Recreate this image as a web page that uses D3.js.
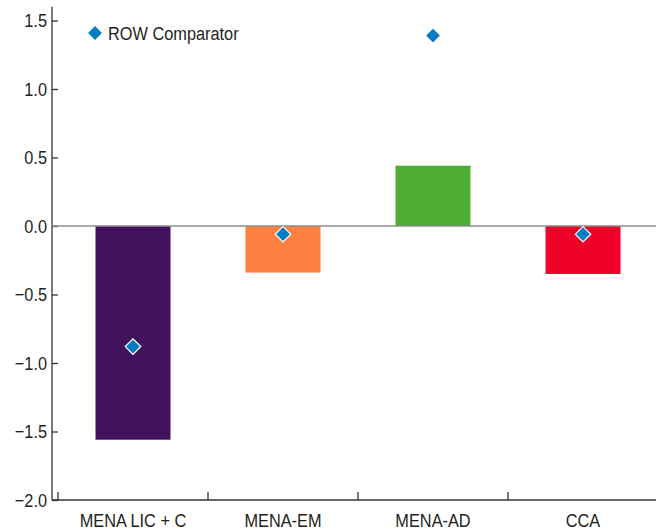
<!DOCTYPE html>
<html><head><meta charset="utf-8">
<script src="https://cdn.jsdelivr.net/npm/d3@7"></script>
<style>body{margin:0;background:#fff}svg text{font-family:"Liberation Sans",Arial,sans-serif;fill:#231f20}</style>
</head><body><svg id="c" width="656" height="532"></svg>
<script>
const categories = ["MENA LIC + C", "MENA-EM", "MENA-AD", "CCA"];
const barValues = [-1.56, -0.34, 0.44, -0.35];
const rowComparator = [-0.88, -0.06, 1.39, -0.06];
const barColors = ["#43125f", "#ff7f41", "#4fad33", "#ee0029"];
const yTicks = [1.5, 1.0, 0.5, 0.0, -0.5, -1.0, -1.5, -2.0];
const legendLabel = "ROW Comparator";

const SX = 0.86, FS = 19;
const svg = d3.select("#c");
const y = d3.scaleLinear().domain([-2, 1.6]).range([500, 6.8]);
const x = d3.scaleBand().domain(categories).range([58, 658]).paddingInner(0).paddingOuter(0);
const fmt = v => (v < 0 ? "\u2212" : "") + Math.abs(v).toFixed(1);

// y axis
const ya = svg.append("g").attr("transform", "translate(52,0)")
  .call(d3.axisRight(y).tickValues(yTicks).tickSize(6).tickFormat(""));
ya.select(".domain").attr("stroke", "#333").attr("stroke-width", 1.3).attr("d", `M0,${y(1.6)}V${y(-2)}`);
ya.selectAll(".tick line").attr("stroke", "#333").attr("stroke-width", 1.3);
svg.append("g").selectAll("text").data(yTicks).join("text")
  .attr("transform", d => `translate(47,${y(d)}) scale(${SX},1)`).attr("dy", "0.36em").attr("text-anchor", "end")
  .attr("font-size", FS).text(fmt);

// bars
svg.append("g").selectAll("rect").data(categories).join("rect")
  .attr("x", d => x(d) + x.bandwidth() / 4).attr("width", x.bandwidth() / 2)
  .attr("y", (d, i) => Math.min(y(0), y(barValues[i])))
  .attr("height", (d, i) => Math.abs(y(barValues[i]) - y(0)))
  .attr("fill", (d, i) => barColors[i]);

// zero line
svg.append("line").attr("x1", 52).attr("x2", 656).attr("y1", y(0)).attr("y2", y(0))
  .attr("stroke", "#8c8c8c").attr("stroke-width", 1.6);

// x axis
svg.append("line").attr("x1", 52).attr("x2", 656).attr("y1", y(-2)).attr("y2", y(-2))
  .attr("stroke", "#333").attr("stroke-width", 1.3);
svg.append("g").selectAll("line").data(categories).join("line")
  .attr("x1", d => x(d)).attr("x2", d => x(d)).attr("y1", y(-2)).attr("y2", y(-2) - 8)
  .attr("stroke", "#333").attr("stroke-width", 1.3);
svg.append("g").selectAll("text").data(categories).join("text")
  .attr("transform", d => `translate(${x(d) + x.bandwidth() / 2},527) scale(${SX},1)`).attr("text-anchor", "middle")
  .attr("font-size", FS).text(d => d);

// diamonds
const sym = d3.symbol().type(d3.symbolSquare).size(120);
svg.append("g").selectAll("path").data(categories).join("path")
  .attr("d", sym)
  .attr("transform", (d, i) => `translate(${x(d) + x.bandwidth() / 2},${y(rowComparator[i])}) rotate(45)`)
  .attr("fill", "#007dc0").attr("stroke", "#fff").attr("stroke-width", 1.2);

// legend
svg.append("path").attr("d", sym).attr("transform", "translate(95,33) rotate(45)")
  .attr("fill", "#007dc0").attr("stroke", "#fff").attr("stroke-width", 1.2);
svg.append("text").attr("transform", `translate(108,33) scale(${SX},1)`).attr("dy", "0.36em").attr("font-size", FS).text(legendLabel);
</script></body></html>
